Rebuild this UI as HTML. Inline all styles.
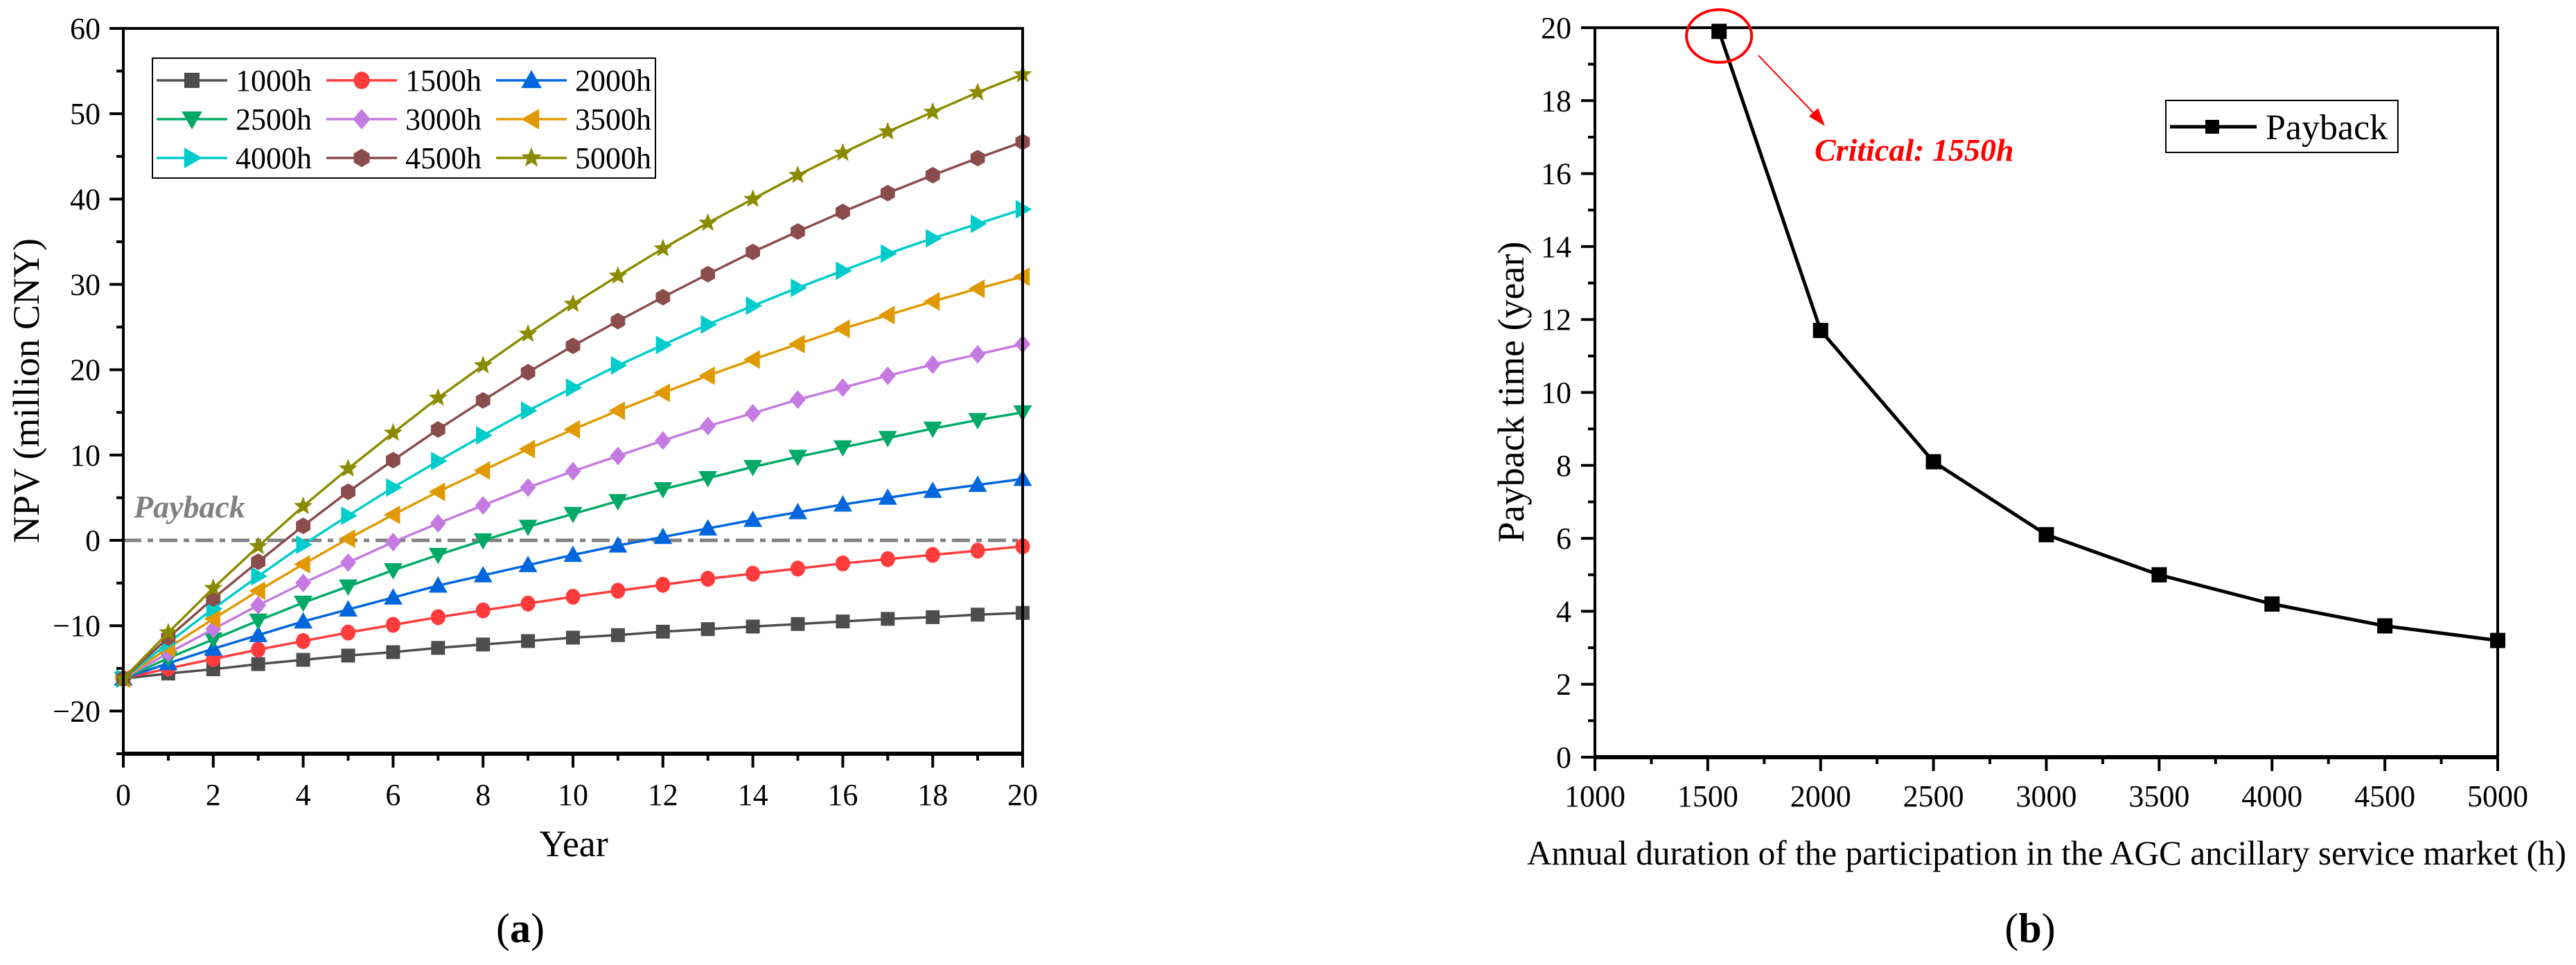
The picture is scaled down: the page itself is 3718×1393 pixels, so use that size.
<!DOCTYPE html>
<html><head><meta charset="utf-8"><style>
html,body{margin:0;padding:0;background:#fff;}
svg, svg text{font-family:"Liberation Serif","Times New Roman",serif;}
</style></head><body>
<svg id="fig" width="3718" height="1388" viewBox="0 0 3718 1388" font-family="Liberation Serif, serif" xmlns="http://www.w3.org/2000/svg"></svg>
<script>
// ---- Chart (a) data ----
const years = [0,1,2,3,4,5,6,7,8,9,10,11,12,13,14,15,16,17,18,19,20];
const seriesNames = ["1000h","1500h","2000h","2500h","3000h","3500h","4000h","4500h","5000h"];
const npv1000 = [-16.2,-15.6,-15.1,-14.5,-14.0,-13.5,-13.1,-12.6,-12.2,-11.8,-11.4,-11.1,-10.7,-10.4,-10.1,-9.8,-9.5,-9.2,-9.0,-8.7,-8.5];
const npv1500 = [-16.2,-15.0,-13.9,-12.8,-11.8,-10.8,-9.9,-9.0,-8.2,-7.4,-6.6,-5.9,-5.2,-4.5,-3.9,-3.3,-2.7,-2.2,-1.7,-1.2,-0.7];
const npv2000 = [-16.2,-14.4,-12.7,-11.1,-9.5,-8.1,-6.7,-5.3,-4.1,-2.9,-1.7,-0.6,0.4,1.4,2.4,3.3,4.2,5.0,5.8,6.5,7.2];
const npv2500 = [-16.2,-13.8,-11.6,-9.4,-7.3,-5.4,-3.5,-1.7,0.0,1.6,3.1,4.6,6.0,7.3,8.6,9.8,10.9,12.0,13.1,14.1,15.0];
const npv3000 = [-16.2,-13.2,-10.4,-7.6,-5.0,-2.6,-0.2,2.0,4.1,6.2,8.1,9.9,11.7,13.4,14.9,16.5,17.9,19.3,20.6,21.8,23.0];
const npv3500 = [-16.2,-12.6,-9.2,-5.9,-2.8,0.2,3.0,5.7,8.2,10.7,13.0,15.2,17.3,19.3,21.2,23.0,24.8,26.4,28.0,29.5,30.9];
const npv4000 = [-16.2,-12.0,-8.0,-4.2,-0.5,2.9,6.2,9.3,12.3,15.2,17.9,20.5,22.9,25.3,27.5,29.6,31.6,33.6,35.4,37.1,38.8];
const npv4500 = [-16.2,-11.4,-6.8,-2.5,1.7,5.7,9.4,13.0,16.4,19.7,22.8,25.7,28.5,31.2,33.8,36.2,38.5,40.7,42.8,44.8,46.7];
const npv5000 = [-16.2,-10.8,-5.6,-0.7,4.0,8.4,12.6,16.7,20.5,24.2,27.7,31.0,34.2,37.2,40.0,42.8,45.4,47.9,50.2,52.5,54.6];
const aXTicks = [0,2,4,6,8,10,12,14,16,18,20];
const aYTicks = [-20,-10,0,10,20,30,40,50,60];
const paybackLevel = 0;
// ---- Chart (b) data ----
const hours = [1550,2000,2500,3000,3500,4000,4500,5000];
const paybackYears = [19.9,11.7,8.1,6.1,5.0,4.2,3.6,3.2];
const bXTicks = [1000,1500,2000,2500,3000,3500,4000,4500,5000];
const bYTicks = [0,2,4,6,8,10,12,14,16,18,20];

const NS="http://www.w3.org/2000/svg";
const svg=document.getElementById('fig');
const FF='Liberation Serif, serif';
function mk(tag,attrs,parent,text){const e=document.createElementNS(NS,tag);for(const k in attrs)e.setAttribute(k,attrs[k]);if(tag==='text')e.setAttribute('font-family',FF);if(text!==undefined)e.textContent=text;(parent||svg).appendChild(e);return e;}

const ax={x0:178,x1:1476,y0:1088,y1:41,xmin:0,xmax:20,ymin:-25,ymax:60};
const axX=v=>ax.x0+(v-ax.xmin)/(ax.xmax-ax.xmin)*(ax.x1-ax.x0);
const axY=v=>ax.y0-(v-ax.ymin)/(ax.ymax-ax.ymin)*(ax.y0-ax.y1);
const bx={x0:2302,x1:3605,y0:1093,y1:40,xmin:1000,xmax:5000,ymin:0,ymax:20};
const bxX=v=>bx.x0+(v-bx.xmin)/(bx.xmax-bx.xmin)*(bx.x1-bx.x0);
const bxY=v=>bx.y0-(v-bx.ymin)/(bx.ymax-bx.ymin)*(bx.y0-bx.y1);

const colors=["#4d4d4d","#ff3b3b","#0066dd","#00aa66","#c47ae0","#e09a00","#00cccc","#8b4c4c","#8b8b00"];
const shapes=["square","circle","up","down","diamond","left","right","hex","star"];
const allSeries=[npv1000,npv1500,npv2000,npv2500,npv3000,npv3500,npv4000,npv4500,npv5000];

function marker(g,shape,x,y,s,col){
  let e;
  if(shape==="square") e=mk('rect',{x:x-s,y:y-s,width:2*s,height:2*s,fill:col},g);
  else if(shape==="circle") e=mk('ellipse',{cx:x,cy:y,rx:s*1.05,ry:s*1.15,fill:col},g);
  else {
    let pts=[];
    const r=s*1.35;
    if(shape==="up") pts=[[0,-r],[r,r*0.75],[-r,r*0.75]];
    if(shape==="down") pts=[[0,r],[r,-r*0.75],[-r,-r*0.75]];
    if(shape==="left") pts=[[-r,0],[r*0.75,-r],[r*0.75,r]];
    if(shape==="right") pts=[[r,0],[-r*0.75,-r],[-r*0.75,r]];
    if(shape==="diamond") pts=[[0,-r],[r*0.85,0],[0,r],[-r*0.85,0]];
    if(shape==="hex"){for(let i=0;i<6;i++){const a=Math.PI/6+i*Math.PI/3;pts.push([Math.cos(a)*s*1.2,Math.sin(a)*s*1.2]);}}
    if(shape==="star"){for(let i=0;i<10;i++){const a=-Math.PI/2+i*Math.PI/5;const rr=i%2?r*0.45:r*1.05;pts.push([Math.cos(a)*rr,Math.sin(a)*rr]);}}
    e=mk('polygon',{points:pts.map(p=>(x+p[0])+','+(y+p[1])).join(' '),fill:col},g);
  }
  return e;
}

// ===== Chart (a) =====
const ga=mk('g',{});


const pl=mk('line',{x1:ax.x0,x2:ax.x1,y1:axY(paybackLevel),y2:axY(paybackLevel),stroke:'#808080','stroke-width':5,'stroke-dasharray':'26 9 8 9'},ga);


const plt=mk('text',{x:193,y:747,'font-size':46,'font-style':'italic','font-weight':'bold',fill:'#808080'},ga,'Payback');


allSeries.forEach((vals,si)=>{
  const g=mk('g',{},ga);
  
  
  const path=mk('polyline',{points:vals.map((v,i)=>axX(years[i])+','+axY(v)).join(' '),fill:'none',stroke:colors[si],'stroke-width':3.5},g);
  
  
  vals.forEach((v,i)=>{
    const m=marker(g,shapes[si],axX(years[i]),axY(v),10,colors[si]);
    
    
  });
});
const fa=mk('rect',{x:ax.x0,y:ax.y1,width:ax.x1-ax.x0,height:ax.y0-ax.y1,fill:'none',stroke:'#000','stroke-width':4},ga);


mk('line',{x1:ax.x0-2,x2:ax.x1+2,y1:ax.y0,y2:ax.y0,stroke:'#000','stroke-width':6},ga);
for(let v=0;v<=20;v++){const x=axX(v);const major=aXTicks.includes(v);mk('line',{x1:x,x2:x,y1:ax.y0,y2:ax.y0+(major?20:10),stroke:'#000','stroke-width':4},ga);}
aXTicks.forEach(v=>{const t=mk('text',{x:axX(v),y:1162,'font-size':44,'text-anchor':'middle'},ga,String(v));
  
  });
for(let v=-25;v<=60;v+=5){const y=axY(v);const major=aYTicks.includes(v);mk('line',{x1:ax.x0,x2:ax.x0-(major?20:10),y1:y,y2:y,stroke:'#000','stroke-width':4},ga);}
aYTicks.forEach(v=>{const t=mk('text',{x:145,y:axY(v)+15,'font-size':44,'text-anchor':'end'},ga,v<0?'\u2212'+Math.abs(v):String(v));
  
  });
const xta=mk('text',{x:828,y:1236,'font-size':54,'text-anchor':'middle'},ga,'Year');


const yta=mk('text',{x:0,y:0,'font-size':54,'text-anchor':'middle',transform:'translate(56,564) rotate(-90)'},ga,'NPV (million CNY)');


const lg=mk('g',{},ga);


mk('rect',{x:220,y:84,width:726,height:173,fill:'#fff',stroke:'#000','stroke-width':2},lg);
seriesNames.forEach((n,i)=>{
  const col=i%3,row=Math.floor(i/3);
  const lx=226+col*245,ly=116+row*56;
  const e=mk('g',{},lg);
  
  
  mk('line',{x1:lx,x2:lx+102,y1:ly,y2:ly,stroke:colors[i],'stroke-width':3.5},e);
  marker(e,shapes[i],lx+51,ly,11,colors[i]);
  mk('text',{x:lx+114,y:ly+15,'font-size':44},e,n);
});
const capa=mk('text',{x:751,y:1360,'font-size':60,'text-anchor':'middle'},ga);


mk('tspan',{},capa,'(');mk('tspan',{'font-weight':'bold'},capa,'a');mk('tspan',{},capa,')');

// ===== Chart (b) =====
const gb=mk('g',{});


const lineB=mk('polyline',{points:hours.map((h,i)=>bxX(h)+','+bxY(paybackYears[i])).join(' '),fill:'none',stroke:'#000','stroke-width':5},gb);


hours.forEach((h,i)=>{const m=mk('rect',{x:bxX(h)-11,y:bxY(paybackYears[i])-11,width:22,height:22,fill:'#000'},gb);
  
  });
const fb=mk('rect',{x:bx.x0,y:bx.y1,width:bx.x1-bx.x0,height:bx.y0-bx.y1,fill:'none',stroke:'#000','stroke-width':4},gb);


mk('line',{x1:bx.x0-2,x2:bx.x1+2,y1:bx.y0,y2:bx.y0,stroke:'#000','stroke-width':6},gb);
for(let v=1000;v<=5000;v+=250){const x=bxX(v);const major=bXTicks.includes(v);mk('line',{x1:x,x2:x,y1:bx.y0,y2:bx.y0+(major?20:10),stroke:'#000','stroke-width':4},gb);}
bXTicks.forEach(v=>{const t=mk('text',{x:bxX(v),y:1164,'font-size':44,'text-anchor':'middle'},gb,String(v));
  
  });
for(let v=0;v<=20;v++){const y=bxY(v);const major=bYTicks.includes(v);mk('line',{x1:bx.x0,x2:bx.x0-(major?20:10),y1:y,y2:y,stroke:'#000','stroke-width':4},gb);}
bYTicks.forEach(v=>{const t=mk('text',{x:2268,y:bxY(v)+15,'font-size':44,'text-anchor':'end'},gb,String(v));
  
  });
const xtb=mk('text',{x:2954,y:1248,'font-size':50,'text-anchor':'middle',textLength:1500,lengthAdjust:'spacingAndGlyphs'},gb,'Annual duration of the participation in the AGC ancillary service market (h)');


const ytb=mk('text',{x:0,y:0,'font-size':54,'text-anchor':'middle',transform:'translate(2199,566) rotate(-90)'},gb,'Payback time (year)');


const circ=mk('ellipse',{cx:bxX(hours[0]),cy:52,rx:47,ry:38,fill:'none',stroke:'#ff0000','stroke-width':4},gb);


const arr=mk('line',{x1:2538,y1:80,x2:2626,y2:172,stroke:'#ff0000','stroke-width':2},gb);


mk('polygon',{points:'2634,182 2611,168 2624,156',fill:'#ff0000'},gb);
const ct=mk('text',{x:2619,y:232,'font-size':46,'font-style':'italic','font-weight':'bold',fill:'#ff0000'},gb,'Critical: 1550h');


const lb=mk('g',{},gb);


mk('rect',{x:3126,y:145,width:335,height:75,fill:'#fff',stroke:'#000','stroke-width':2},lb);
mk('line',{x1:3132,x2:3257,y1:183,y2:183,stroke:'#000','stroke-width':5},lb);
mk('rect',{x:3183,y:173,width:20,height:20,fill:'#000'},lb);
mk('text',{x:3270,y:201,'font-size':52},lb,'Payback');
const capb=mk('text',{x:2930,y:1360,'font-size':60,'text-anchor':'middle'},gb);


mk('tspan',{},capb,'(');mk('tspan',{'font-weight':'bold'},capb,'b');mk('tspan',{},capb,')');
</script>
</body></html>
